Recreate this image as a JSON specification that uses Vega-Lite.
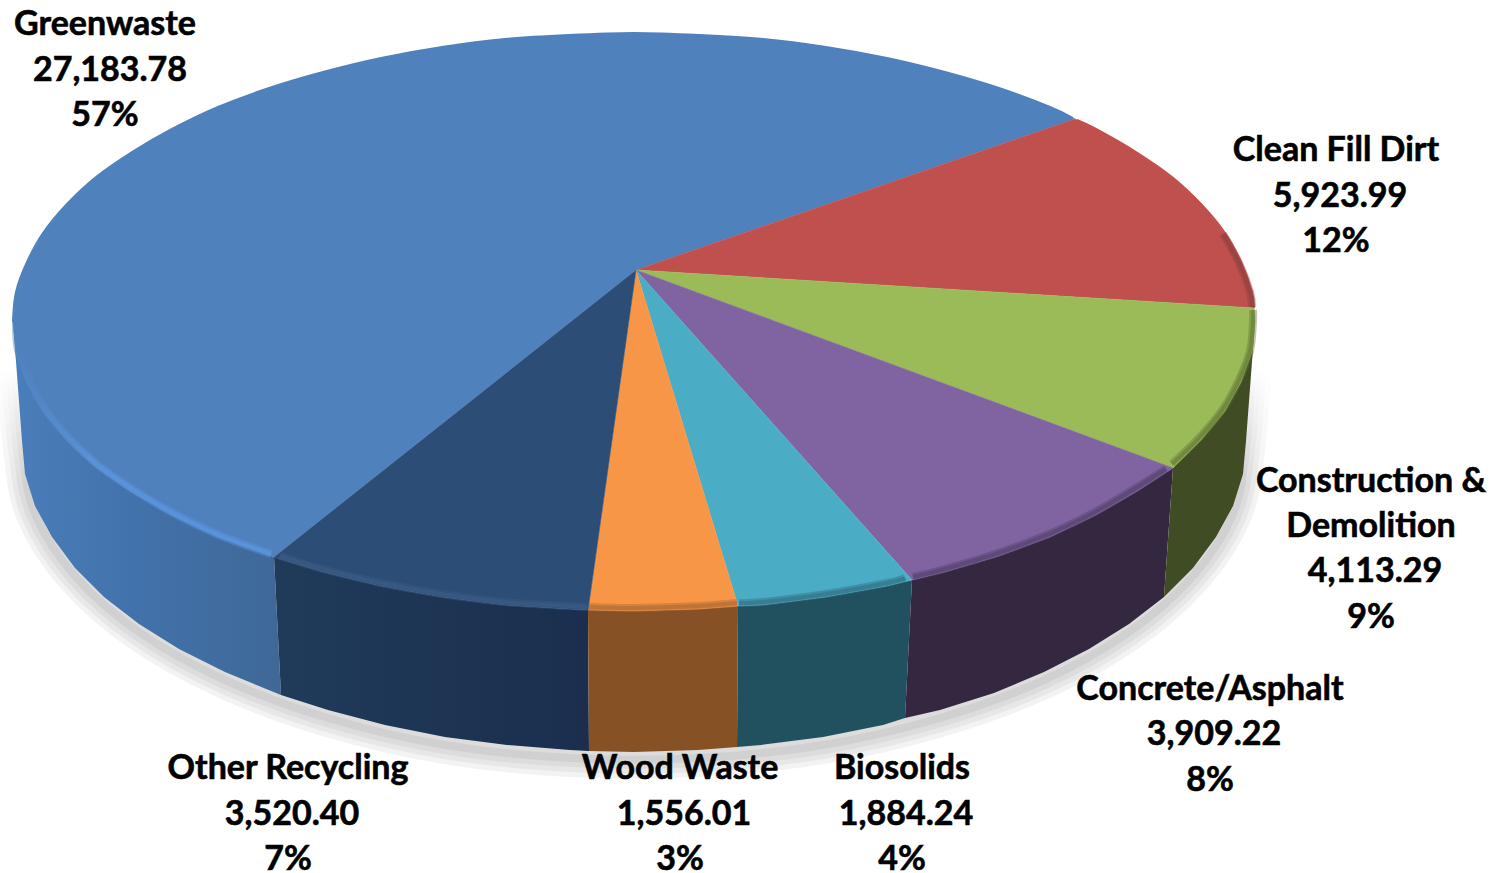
{"$schema":"https://vega.github.io/schema/vega-lite/v6.json","width":1504,"height":873,"padding":0,"autosize":{"type":"none"},"background":"white","view":{"stroke":null},
"datasets":{"outline":[
{"face":"shadow","seq":0,"x":1252,"y":368},{"face":"shadow","seq":1,"x":1246,"y":449},{"face":"shadow","seq":2,"x":1233,"y":514},{"face":"shadow","seq":3,"x":1193,"y":576},{"face":"shadow","seq":4,"x":1129,"y":632},{"face":"shadow","seq":5,"x":1044,"y":680},{"face":"shadow","seq":6,"x":940,"y":718},{"face":"shadow","seq":7,"x":823,"y":745},{"face":"shadow","seq":8,"x":698,"y":758},{"face":"shadow","seq":9,"x":570,"y":758},{"face":"shadow","seq":10,"x":445,"y":745},{"face":"shadow","seq":11,"x":328,"y":718},{"face":"shadow","seq":12,"x":225,"y":680},{"face":"shadow","seq":13,"x":139,"y":632},{"face":"shadow","seq":14,"x":75,"y":576},{"face":"shadow","seq":15,"x":35,"y":514},{"face":"shadow","seq":16,"x":22,"y":449},{"face":"shadow","seq":17,"x":15,"y":368},

{"face":"wall","slice":"Greenwaste","seq":0,"x":274,"y":557},{"face":"wall","slice":"Greenwaste","seq":1,"x":218,"y":537},{"face":"wall","slice":"Greenwaste","seq":2,"x":172,"y":515},{"face":"wall","slice":"Greenwaste","seq":3,"x":132,"y":492},{"face":"wall","slice":"Greenwaste","seq":4,"x":96,"y":467},{"face":"wall","slice":"Greenwaste","seq":5,"x":67,"y":440},{"face":"wall","slice":"Greenwaste","seq":6,"x":43,"y":411},{"face":"wall","slice":"Greenwaste","seq":7,"x":27,"y":382},{"face":"wall","slice":"Greenwaste","seq":8,"x":16,"y":352},{"face":"wall","slice":"Greenwaste","seq":9,"x":13,"y":322},{"face":"wall","slice":"Greenwaste","seq":10,"x":22,"y":441},{"face":"wall","slice":"Greenwaste","seq":11,"x":25,"y":474},{"face":"wall","slice":"Greenwaste","seq":12,"x":35,"y":506},{"face":"wall","slice":"Greenwaste","seq":13,"x":52,"y":537},{"face":"wall","slice":"Greenwaste","seq":14,"x":75,"y":568},{"face":"wall","slice":"Greenwaste","seq":15,"x":104,"y":597},{"face":"wall","slice":"Greenwaste","seq":16,"x":139,"y":624},{"face":"wall","slice":"Greenwaste","seq":17,"x":179,"y":649},{"face":"wall","slice":"Greenwaste","seq":18,"x":225,"y":672},{"face":"wall","slice":"Greenwaste","seq":19,"x":281,"y":695},

{"face":"wall","slice":"Other Recycling","seq":0,"x":588,"y":610},{"face":"wall","slice":"Other Recycling","seq":1,"x":569,"y":609},{"face":"wall","slice":"Other Recycling","seq":2,"x":505,"y":605},{"face":"wall","slice":"Other Recycling","seq":3,"x":442,"y":597},{"face":"wall","slice":"Other Recycling","seq":4,"x":381,"y":586},{"face":"wall","slice":"Other Recycling","seq":5,"x":323,"y":572},{"face":"wall","slice":"Other Recycling","seq":6,"x":274,"y":557},{"face":"wall","slice":"Other Recycling","seq":7,"x":281,"y":695},{"face":"wall","slice":"Other Recycling","seq":8,"x":328,"y":710},{"face":"wall","slice":"Other Recycling","seq":9,"x":385,"y":725},{"face":"wall","slice":"Other Recycling","seq":10,"x":445,"y":737},{"face":"wall","slice":"Other Recycling","seq":11,"x":507,"y":745},{"face":"wall","slice":"Other Recycling","seq":12,"x":570,"y":750},{"face":"wall","slice":"Other Recycling","seq":13,"x":589,"y":751},

{"face":"wall","slice":"Wood Waste","seq":0,"x":738,"y":606},{"face":"wall","slice":"Wood Waste","seq":1,"x":699,"y":609},{"face":"wall","slice":"Wood Waste","seq":2,"x":634,"y":611},{"face":"wall","slice":"Wood Waste","seq":3,"x":588,"y":610},{"face":"wall","slice":"Wood Waste","seq":4,"x":589,"y":751},{"face":"wall","slice":"Wood Waste","seq":5,"x":634,"y":752},{"face":"wall","slice":"Wood Waste","seq":6,"x":698,"y":750},{"face":"wall","slice":"Wood Waste","seq":7,"x":737,"y":747},

{"face":"wall","slice":"Biosolids","seq":0,"x":912,"y":580},{"face":"wall","slice":"Biosolids","seq":1,"x":887,"y":586},{"face":"wall","slice":"Biosolids","seq":2,"x":826,"y":597},{"face":"wall","slice":"Biosolids","seq":3,"x":763,"y":605},{"face":"wall","slice":"Biosolids","seq":4,"x":738,"y":606},{"face":"wall","slice":"Biosolids","seq":5,"x":737,"y":747},{"face":"wall","slice":"Biosolids","seq":6,"x":761,"y":745},{"face":"wall","slice":"Biosolids","seq":7,"x":823,"y":737},{"face":"wall","slice":"Biosolids","seq":8,"x":883,"y":725},{"face":"wall","slice":"Biosolids","seq":9,"x":905,"y":718},

{"face":"wall","slice":"Concrete/Asphalt","seq":0,"x":1173,"y":468},{"face":"wall","slice":"Concrete/Asphalt","seq":1,"x":1136,"y":492},{"face":"wall","slice":"Concrete/Asphalt","seq":2,"x":1096,"y":515},{"face":"wall","slice":"Concrete/Asphalt","seq":3,"x":1050,"y":537},{"face":"wall","slice":"Concrete/Asphalt","seq":4,"x":999,"y":556},{"face":"wall","slice":"Concrete/Asphalt","seq":5,"x":945,"y":572},{"face":"wall","slice":"Concrete/Asphalt","seq":6,"x":912,"y":580},{"face":"wall","slice":"Concrete/Asphalt","seq":7,"x":905,"y":718},{"face":"wall","slice":"Concrete/Asphalt","seq":8,"x":940,"y":710},{"face":"wall","slice":"Concrete/Asphalt","seq":9,"x":994,"y":693},{"face":"wall","slice":"Concrete/Asphalt","seq":10,"x":1044,"y":672},{"face":"wall","slice":"Concrete/Asphalt","seq":11,"x":1089,"y":649},{"face":"wall","slice":"Concrete/Asphalt","seq":12,"x":1129,"y":624},{"face":"wall","slice":"Concrete/Asphalt","seq":13,"x":1164,"y":597},

{"face":"wall","slice":"Construction & Demolition","seq":0,"x":1255,"y":322},{"face":"wall","slice":"Construction & Demolition","seq":1,"x":1252,"y":352},{"face":"wall","slice":"Construction & Demolition","seq":2,"x":1241,"y":382},{"face":"wall","slice":"Construction & Demolition","seq":3,"x":1225,"y":411},{"face":"wall","slice":"Construction & Demolition","seq":4,"x":1201,"y":440},{"face":"wall","slice":"Construction & Demolition","seq":5,"x":1173,"y":468},{"face":"wall","slice":"Construction & Demolition","seq":6,"x":1164,"y":597},{"face":"wall","slice":"Construction & Demolition","seq":7,"x":1193,"y":568},{"face":"wall","slice":"Construction & Demolition","seq":8,"x":1216,"y":537},{"face":"wall","slice":"Construction & Demolition","seq":9,"x":1233,"y":506},{"face":"wall","slice":"Construction & Demolition","seq":10,"x":1243,"y":474},{"face":"wall","slice":"Construction & Demolition","seq":11,"x":1246,"y":441},

{"face":"top","slice":"Greenwaste","seq":0,"x":636,"y":270},{"face":"top","slice":"Greenwaste","seq":1,"x":274,"y":557},{"face":"top","slice":"Greenwaste","seq":2,"x":218,"y":537},{"face":"top","slice":"Greenwaste","seq":3,"x":172,"y":515},{"face":"top","slice":"Greenwaste","seq":4,"x":132,"y":492},{"face":"top","slice":"Greenwaste","seq":5,"x":96,"y":467},{"face":"top","slice":"Greenwaste","seq":6,"x":67,"y":440},{"face":"top","slice":"Greenwaste","seq":7,"x":43,"y":411},{"face":"top","slice":"Greenwaste","seq":8,"x":27,"y":382},{"face":"top","slice":"Greenwaste","seq":9,"x":16,"y":352},{"face":"top","slice":"Greenwaste","seq":10,"x":13,"y":322},{"face":"top","slice":"Greenwaste","seq":11,"x":16,"y":292},{"face":"top","slice":"Greenwaste","seq":12,"x":27,"y":262},{"face":"top","slice":"Greenwaste","seq":13,"x":43,"y":233},{"face":"top","slice":"Greenwaste","seq":14,"x":67,"y":204},{"face":"top","slice":"Greenwaste","seq":15,"x":96,"y":177},{"face":"top","slice":"Greenwaste","seq":16,"x":132,"y":152},{"face":"top","slice":"Greenwaste","seq":17,"x":172,"y":129},{"face":"top","slice":"Greenwaste","seq":18,"x":218,"y":107},{"face":"top","slice":"Greenwaste","seq":19,"x":269,"y":88},{"face":"top","slice":"Greenwaste","seq":20,"x":323,"y":72},{"face":"top","slice":"Greenwaste","seq":21,"x":381,"y":58},{"face":"top","slice":"Greenwaste","seq":22,"x":442,"y":47},{"face":"top","slice":"Greenwaste","seq":23,"x":505,"y":39},{"face":"top","slice":"Greenwaste","seq":24,"x":569,"y":35},{"face":"top","slice":"Greenwaste","seq":25,"x":634,"y":33},{"face":"top","slice":"Greenwaste","seq":26,"x":699,"y":35},{"face":"top","slice":"Greenwaste","seq":27,"x":763,"y":39},{"face":"top","slice":"Greenwaste","seq":28,"x":826,"y":47},{"face":"top","slice":"Greenwaste","seq":29,"x":887,"y":58},{"face":"top","slice":"Greenwaste","seq":30,"x":945,"y":72},{"face":"top","slice":"Greenwaste","seq":31,"x":999,"y":88},{"face":"top","slice":"Greenwaste","seq":32,"x":1050,"y":107},{"face":"top","slice":"Greenwaste","seq":33,"x":1075,"y":119},

{"face":"top","slice":"Clean Fill Dirt","seq":0,"x":636,"y":270},{"face":"top","slice":"Clean Fill Dirt","seq":1,"x":1075,"y":119},{"face":"top","slice":"Clean Fill Dirt","seq":2,"x":1096,"y":129},{"face":"top","slice":"Clean Fill Dirt","seq":3,"x":1136,"y":152},{"face":"top","slice":"Clean Fill Dirt","seq":4,"x":1172,"y":177},{"face":"top","slice":"Clean Fill Dirt","seq":5,"x":1201,"y":204},{"face":"top","slice":"Clean Fill Dirt","seq":6,"x":1225,"y":233},{"face":"top","slice":"Clean Fill Dirt","seq":7,"x":1241,"y":262},{"face":"top","slice":"Clean Fill Dirt","seq":8,"x":1252,"y":292},{"face":"top","slice":"Clean Fill Dirt","seq":9,"x":1254,"y":308},

{"face":"top","slice":"Construction & Demolition","seq":0,"x":636,"y":270},{"face":"top","slice":"Construction & Demolition","seq":1,"x":1254,"y":308},{"face":"top","slice":"Construction & Demolition","seq":2,"x":1255,"y":322},{"face":"top","slice":"Construction & Demolition","seq":3,"x":1252,"y":352},{"face":"top","slice":"Construction & Demolition","seq":4,"x":1241,"y":382},{"face":"top","slice":"Construction & Demolition","seq":5,"x":1225,"y":411},{"face":"top","slice":"Construction & Demolition","seq":6,"x":1201,"y":440},{"face":"top","slice":"Construction & Demolition","seq":7,"x":1173,"y":468},

{"face":"top","slice":"Concrete/Asphalt","seq":0,"x":636,"y":270},{"face":"top","slice":"Concrete/Asphalt","seq":1,"x":1173,"y":468},{"face":"top","slice":"Concrete/Asphalt","seq":2,"x":1136,"y":492},{"face":"top","slice":"Concrete/Asphalt","seq":3,"x":1096,"y":515},{"face":"top","slice":"Concrete/Asphalt","seq":4,"x":1050,"y":537},{"face":"top","slice":"Concrete/Asphalt","seq":5,"x":999,"y":556},{"face":"top","slice":"Concrete/Asphalt","seq":6,"x":945,"y":572},{"face":"top","slice":"Concrete/Asphalt","seq":7,"x":912,"y":580},

{"face":"top","slice":"Biosolids","seq":0,"x":636,"y":270},{"face":"top","slice":"Biosolids","seq":1,"x":912,"y":580},{"face":"top","slice":"Biosolids","seq":2,"x":887,"y":586},{"face":"top","slice":"Biosolids","seq":3,"x":826,"y":597},{"face":"top","slice":"Biosolids","seq":4,"x":763,"y":605},{"face":"top","slice":"Biosolids","seq":5,"x":738,"y":606},

{"face":"top","slice":"Wood Waste","seq":0,"x":636,"y":270},{"face":"top","slice":"Wood Waste","seq":1,"x":738,"y":606},{"face":"top","slice":"Wood Waste","seq":2,"x":699,"y":609},{"face":"top","slice":"Wood Waste","seq":3,"x":634,"y":611},{"face":"top","slice":"Wood Waste","seq":4,"x":588,"y":610},

{"face":"top","slice":"Other Recycling","seq":0,"x":636,"y":270},{"face":"top","slice":"Other Recycling","seq":1,"x":588,"y":610},{"face":"top","slice":"Other Recycling","seq":2,"x":569,"y":609},{"face":"top","slice":"Other Recycling","seq":3,"x":505,"y":605},{"face":"top","slice":"Other Recycling","seq":4,"x":442,"y":597},{"face":"top","slice":"Other Recycling","seq":5,"x":381,"y":586},{"face":"top","slice":"Other Recycling","seq":6,"x":323,"y":572},{"face":"top","slice":"Other Recycling","seq":7,"x":274,"y":557},

{"face":"edge","slice":"Greenwaste","seq":0,"x":13,"y":322},{"face":"edge","slice":"Greenwaste","seq":1,"x":16,"y":292},{"face":"edge","slice":"Greenwaste","seq":2,"x":27,"y":262},{"face":"edge","slice":"Greenwaste","seq":3,"x":43,"y":233},{"face":"edge","slice":"Greenwaste","seq":4,"x":67,"y":204},{"face":"edge","slice":"Greenwaste","seq":5,"x":96,"y":177},{"face":"edge","slice":"Greenwaste","seq":6,"x":132,"y":152},{"face":"edge","slice":"Greenwaste","seq":7,"x":172,"y":129},{"face":"edge","slice":"Greenwaste","seq":8,"x":218,"y":107},{"face":"edge","slice":"Greenwaste","seq":9,"x":269,"y":88},{"face":"edge","slice":"Greenwaste","seq":10,"x":323,"y":72},{"face":"edge","slice":"Greenwaste","seq":11,"x":381,"y":58},{"face":"edge","slice":"Greenwaste","seq":12,"x":442,"y":47},{"face":"edge","slice":"Greenwaste","seq":13,"x":505,"y":39},{"face":"edge","slice":"Greenwaste","seq":14,"x":569,"y":35},{"face":"edge","slice":"Greenwaste","seq":15,"x":634,"y":33},{"face":"edge","slice":"Greenwaste","seq":16,"x":699,"y":35},{"face":"edge","slice":"Greenwaste","seq":17,"x":763,"y":39},{"face":"edge","slice":"Greenwaste","seq":18,"x":826,"y":47},{"face":"edge","slice":"Greenwaste","seq":19,"x":887,"y":58},{"face":"edge","slice":"Greenwaste","seq":20,"x":945,"y":72},{"face":"edge","slice":"Greenwaste","seq":21,"x":999,"y":88},{"face":"edge","slice":"Greenwaste","seq":22,"x":1050,"y":107},{"face":"edge","slice":"Greenwaste","seq":23,"x":1073,"y":118},
{"face":"edge","slice":"Clean Fill Dirt","seq":0,"x":1077,"y":120},{"face":"edge","slice":"Clean Fill Dirt","seq":1,"x":1096,"y":129},{"face":"edge","slice":"Clean Fill Dirt","seq":2,"x":1136,"y":152},{"face":"edge","slice":"Clean Fill Dirt","seq":3,"x":1172,"y":177},{"face":"edge","slice":"Clean Fill Dirt","seq":4,"x":1201,"y":204},{"face":"edge","slice":"Clean Fill Dirt","seq":5,"x":1225,"y":233},{"face":"edge","slice":"Clean Fill Dirt","seq":6,"x":1241,"y":262},{"face":"edge","slice":"Clean Fill Dirt","seq":7,"x":1252,"y":292},{"face":"edge","slice":"Clean Fill Dirt","seq":8,"x":1254,"y":308},

{"face":"rimBlue","slice":"Greenwaste","seq":0,"x":271,"y":554},{"face":"rimBlue","slice":"Greenwaste","seq":1,"x":219,"y":535},{"face":"rimBlue","slice":"Greenwaste","seq":2,"x":173,"y":513},{"face":"rimBlue","slice":"Greenwaste","seq":3,"x":134,"y":490},{"face":"rimBlue","slice":"Greenwaste","seq":4,"x":98,"y":465},{"face":"rimBlue","slice":"Greenwaste","seq":5,"x":69,"y":438},{"face":"rimBlue","slice":"Greenwaste","seq":6,"x":45,"y":409},{"face":"rimBlue","slice":"Greenwaste","seq":7,"x":29,"y":380},{"face":"rimBlue","slice":"Greenwaste","seq":8,"x":18,"y":350},{"face":"rimBlue","slice":"Greenwaste","seq":9,"x":16,"y":322},

{"face":"rim","slice":"Other Recycling","seq":0,"x":587,"y":607},{"face":"rim","slice":"Other Recycling","seq":1,"x":505,"y":602},{"face":"rim","slice":"Other Recycling","seq":2,"x":442,"y":594},{"face":"rim","slice":"Other Recycling","seq":3,"x":381,"y":583},{"face":"rim","slice":"Other Recycling","seq":4,"x":323,"y":569},{"face":"rim","slice":"Other Recycling","seq":5,"x":280,"y":556},
{"face":"rim","slice":"Wood Waste","seq":0,"x":737,"y":603},{"face":"rim","slice":"Wood Waste","seq":1,"x":699,"y":606},{"face":"rim","slice":"Wood Waste","seq":2,"x":634,"y":608},{"face":"rim","slice":"Wood Waste","seq":3,"x":589,"y":607},
{"face":"rim","slice":"Biosolids","seq":0,"x":905,"y":578},{"face":"rim","slice":"Biosolids","seq":1,"x":887,"y":583},{"face":"rim","slice":"Biosolids","seq":2,"x":826,"y":594},{"face":"rim","slice":"Biosolids","seq":3,"x":763,"y":602},{"face":"rim","slice":"Biosolids","seq":4,"x":739,"y":603},
{"face":"rim","slice":"Concrete/Asphalt","seq":0,"x":1166,"y":469},{"face":"rim","slice":"Concrete/Asphalt","seq":1,"x":1134,"y":489},{"face":"rim","slice":"Concrete/Asphalt","seq":2,"x":1095,"y":512},{"face":"rim","slice":"Concrete/Asphalt","seq":3,"x":1049,"y":534},{"face":"rim","slice":"Concrete/Asphalt","seq":4,"x":998,"y":553},{"face":"rim","slice":"Concrete/Asphalt","seq":5,"x":945,"y":569},{"face":"rim","slice":"Concrete/Asphalt","seq":6,"x":913,"y":577},
{"face":"rim","slice":"Construction & Demolition","seq":0,"x":1253,"y":310},{"face":"rim","slice":"Construction & Demolition","seq":1,"x":1253,"y":322},{"face":"rim","slice":"Construction & Demolition","seq":2,"x":1250,"y":351},{"face":"rim","slice":"Construction & Demolition","seq":3,"x":1239,"y":380},{"face":"rim","slice":"Construction & Demolition","seq":4,"x":1223,"y":409},{"face":"rim","slice":"Construction & Demolition","seq":5,"x":1199,"y":438},{"face":"rim","slice":"Construction & Demolition","seq":6,"x":1172,"y":464},
{"face":"rim","slice":"Clean Fill Dirt","seq":0,"x":1223,"y":234},{"face":"rim","slice":"Clean Fill Dirt","seq":1,"x":1239,"y":263},{"face":"rim","slice":"Clean Fill Dirt","seq":2,"x":1250,"y":292},{"face":"rim","slice":"Clean Fill Dirt","seq":3,"x":1252,"y":307}
],
"labels":[
{"slice":"Greenwaste","text":"Greenwaste","x":105,"y":23},{"slice":"Greenwaste","text":"27,183.78","value":27183.78,"x":110,"y":69},{"slice":"Greenwaste","text":"57%","x":105,"y":114},
{"slice":"Clean Fill Dirt","text":"Clean Fill Dirt","x":1336,"y":149},{"slice":"Clean Fill Dirt","text":"5,923.99","value":5923.99,"x":1340,"y":195},{"slice":"Clean Fill Dirt","text":"12%","x":1336,"y":240},
{"slice":"Construction & Demolition","text":"Construction &","x":1371,"y":480},{"slice":"Construction & Demolition","text":"Demolition","x":1371,"y":525},{"slice":"Construction & Demolition","text":"4,113.29","value":4113.29,"x":1375,"y":570},{"slice":"Construction & Demolition","text":"9%","x":1371,"y":616},
{"slice":"Concrete/Asphalt","text":"Concrete/Asphalt","x":1210,"y":688},{"slice":"Concrete/Asphalt","text":"3,909.22","value":3909.22,"x":1214,"y":733},{"slice":"Concrete/Asphalt","text":"8%","x":1210,"y":779},
{"slice":"Other Recycling","text":"Other Recycling","x":288,"y":767},{"slice":"Other Recycling","text":"3,520.40","value":3520.40,"x":292,"y":813},{"slice":"Other Recycling","text":"7%","x":288,"y":858},
{"slice":"Wood Waste","text":"Wood Waste","x":680,"y":767},{"slice":"Wood Waste","text":"1,556.01","value":1556.01,"x":684,"y":813},{"slice":"Wood Waste","text":"3%","x":680,"y":858},
{"slice":"Biosolids","text":"Biosolids","x":902,"y":767},{"slice":"Biosolids","text":"1,884.24","value":1884.24,"x":906,"y":813},{"slice":"Biosolids","text":"4%","x":902,"y":858}
]},
"data":{"name":"outline"},
"encoding":{
"x":{"field":"x","type":"quantitative","axis":null,"scale":{"domain":[0,1504],"range":[0,1504],"nice":false,"zero":false}},
"y":{"field":"y","type":"quantitative","axis":null,"scale":{"domain":[0,873],"range":[0,873],"nice":false,"zero":false}},
"order":{"field":"seq","type":"quantitative"}
},
"layer":[
{"transform":[{"filter":"datum.face=='shadow'"}],"mark":{"type":"line","interpolate":"cardinal","strokeWidth":38,"opacity":0.06,"stroke":{"gradient":"linear","x1":0,"y1":0,"x2":0,"y2":1,"stops":[{"offset":0,"color":"rgba(51,51,51,0)"},{"offset":0.3,"color":"rgba(51,51,51,1)"},{"offset":1,"color":"rgba(51,51,51,1)"}]}}},
{"transform":[{"filter":"datum.face=='shadow'"}],"mark":{"type":"line","interpolate":"cardinal","strokeWidth":28,"opacity":0.06,"stroke":{"gradient":"linear","x1":0,"y1":0,"x2":0,"y2":1,"stops":[{"offset":0,"color":"rgba(51,51,51,0)"},{"offset":0.3,"color":"rgba(51,51,51,1)"},{"offset":1,"color":"rgba(51,51,51,1)"}]}}},
{"transform":[{"filter":"datum.face=='shadow'"}],"mark":{"type":"line","interpolate":"cardinal","strokeWidth":18,"opacity":0.06,"stroke":{"gradient":"linear","x1":0,"y1":0,"x2":0,"y2":1,"stops":[{"offset":0,"color":"rgba(51,51,51,0)"},{"offset":0.3,"color":"rgba(51,51,51,1)"},{"offset":1,"color":"rgba(51,51,51,1)"}]}}},
{"transform":[{"filter":"datum.face=='shadow'"}],"mark":{"type":"line","interpolate":"cardinal","strokeWidth":8,"opacity":0.07,"stroke":{"gradient":"linear","x1":0,"y1":0,"x2":0,"y2":1,"stops":[{"offset":0,"color":"rgba(51,51,51,0)"},{"offset":0.3,"color":"rgba(51,51,51,1)"},{"offset":1,"color":"rgba(51,51,51,1)"}]}}},
{"transform":[{"filter":"datum.face=='wall'&&datum.slice=='Greenwaste'"}],"mark":{"type":"line","strokeWidth":0,"fill":{"gradient":"linear","x1":0,"y1":0,"x2":1,"y2":0,"stops":[{"offset":0,"color":"#4a7eba"},{"offset":0.45,"color":"#4272ab"},{"offset":1,"color":"#3f6897"}]}}},
{"transform":[{"filter":"datum.face=='wall'&&datum.slice=='Other Recycling'"}],"mark":{"type":"line","strokeWidth":0,"fill":{"gradient":"linear","x1":0,"y1":0,"x2":1,"y2":0,"stops":[{"offset":0,"color":"#203b5a"},{"offset":1,"color":"#1b2e4d"}]}}},
{"transform":[{"filter":"datum.face=='wall'&&datum.slice=='Wood Waste'"}],"mark":{"type":"line","strokeWidth":0,"fill":"#865225"}},
{"transform":[{"filter":"datum.face=='wall'&&datum.slice=='Biosolids'"}],"mark":{"type":"line","strokeWidth":0,"fill":"#21505f"}},
{"transform":[{"filter":"datum.face=='wall'&&datum.slice=='Concrete/Asphalt'"}],"mark":{"type":"line","strokeWidth":0,"fill":"#332840"}},
{"transform":[{"filter":"datum.face=='wall'&&datum.slice=='Construction & Demolition'"}],"mark":{"type":"line","strokeWidth":0,"fill":"#404c23"}},
{"transform":[{"filter":"datum.face=='top'"}],"mark":{"type":"line","strokeWidth":0.6},
"encoding":{
"fill":{"field":"slice","type":"nominal","legend":null,"scale":{"domain":["Greenwaste","Clean Fill Dirt","Construction & Demolition","Concrete/Asphalt","Biosolids","Wood Waste","Other Recycling"],"range":["#4f81bd","#c0504d","#9bbb59","#8064a2","#4bacc6","#f79646","#2c4d75"]}},
"stroke":{"field":"slice","type":"nominal","legend":null,"scale":{"domain":["Greenwaste","Clean Fill Dirt","Construction & Demolition","Concrete/Asphalt","Biosolids","Wood Waste","Other Recycling"],"range":["#4f81bd","#c0504d","#9bbb59","#8064a2","#4bacc6","#f79646","#2c4d75"]}}}},
{"transform":[{"filter":"datum.face=='edge'&&datum.slice=='Greenwaste'"}],"mark":{"type":"line","interpolate":"cardinal","stroke":"#4f81bd","strokeWidth":2}},
{"transform":[{"filter":"datum.face=='edge'&&datum.slice=='Clean Fill Dirt'"}],"mark":{"type":"line","interpolate":"cardinal","stroke":"#c0504d","strokeWidth":2}},
{"transform":[{"filter":"datum.face=='rimBlue'"}],"mark":{"type":"line","interpolate":"cardinal","strokeWidth":8,"opacity":0.45,"stroke":{"gradient":"linear","x1":1,"y1":0,"x2":0,"y2":0,"stops":[{"offset":0,"color":"#5a96e0"},{"offset":0.7,"color":"#5a96e0"},{"offset":1,"color":"#4f81bd"}]}}},
{"transform":[{"filter":"datum.face=='rimBlue'"}],"mark":{"type":"line","interpolate":"cardinal","strokeWidth":4,"opacity":0.7,"stroke":{"gradient":"linear","x1":1,"y1":0,"x2":0,"y2":0,"stops":[{"offset":0,"color":"#5a96e0"},{"offset":0.7,"color":"#5a96e0"},{"offset":1,"color":"#4f81bd"}]}}},
{"transform":[{"filter":"datum.face=='rim'"}],"mark":{"type":"line","interpolate":"cardinal","strokeWidth":8,"opacity":0.4},
"encoding":{"color":{"field":"slice","type":"nominal","legend":null,"scale":{"domain":["Clean Fill Dirt","Construction & Demolition","Concrete/Asphalt","Biosolids","Wood Waste","Other Recycling"],"range":["#8a3f3d","#5f7434","#4f3f66","#2f6a7a","#a8652f","#3d5d85"]}}}},
{"transform":[{"filter":"datum.face=='rim'"}],"mark":{"type":"line","interpolate":"cardinal","strokeWidth":4,"opacity":0.5},
"encoding":{"color":{"field":"slice","type":"nominal","legend":null,"scale":{"domain":["Clean Fill Dirt","Construction & Demolition","Concrete/Asphalt","Biosolids","Wood Waste","Other Recycling"],"range":["#8a3f3d","#5f7434","#4f3f66","#2f6a7a","#a8652f","#3d5d85"]}}}},
{"data":{"name":"labels"},"mark":{"type":"text","font":"Lato","fontWeight":"bold","fontSize":34,"align":"center","baseline":"middle","color":"#000000","stroke":"#000000","strokeWidth":0.6,"dy":2},
"encoding":{"text":{"field":"text","type":"nominal"},"order":{"value":null}}}
]}
